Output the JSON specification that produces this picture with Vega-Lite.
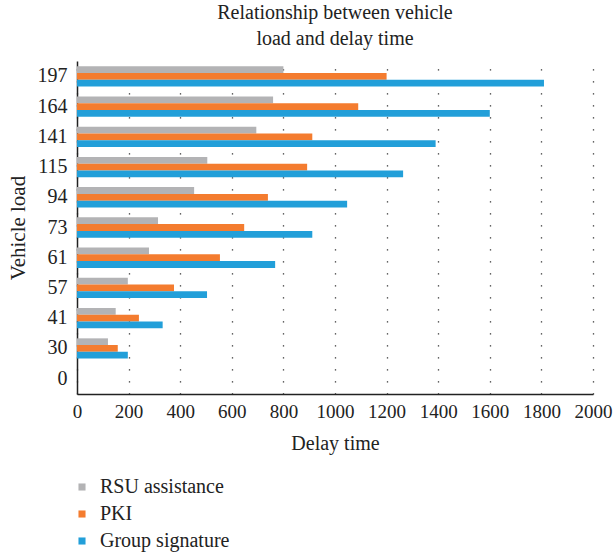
{
  "$schema": "https://vega.github.io/schema/vega-lite/v6.json",
  "autosize": "none",
  "width": 516,
  "height": 333,
  "padding": {"left": 77, "top": 61, "right": 20, "bottom": 160},
  "background": "white",
  "title": {
    "text": ["Relationship between vehicle", "load and delay time"],
    "font": "Liberation Serif",
    "fontSize": 20,
    "fontWeight": "normal",
    "color": "#222",
    "anchor": "middle",
    "lineHeight": 26,
    "offset": 12
  },
  "data": {
    "values": [
      {"load": 197, "scheme": "RSU assistance", "delay": 800},
      {"load": 197, "scheme": "PKI", "delay": 1200},
      {"load": 197, "scheme": "Group signature", "delay": 1810},
      {"load": 164, "scheme": "RSU assistance", "delay": 760},
      {"load": 164, "scheme": "PKI", "delay": 1090},
      {"load": 164, "scheme": "Group signature", "delay": 1600},
      {"load": 141, "scheme": "RSU assistance", "delay": 695},
      {"load": 141, "scheme": "PKI", "delay": 912},
      {"load": 141, "scheme": "Group signature", "delay": 1390},
      {"load": 115, "scheme": "RSU assistance", "delay": 505},
      {"load": 115, "scheme": "PKI", "delay": 892},
      {"load": 115, "scheme": "Group signature", "delay": 1264},
      {"load": 94, "scheme": "RSU assistance", "delay": 454},
      {"load": 94, "scheme": "PKI", "delay": 740},
      {"load": 94, "scheme": "Group signature", "delay": 1047},
      {"load": 73, "scheme": "RSU assistance", "delay": 314},
      {"load": 73, "scheme": "PKI", "delay": 648},
      {"load": 73, "scheme": "Group signature", "delay": 912},
      {"load": 61, "scheme": "RSU assistance", "delay": 279},
      {"load": 61, "scheme": "PKI", "delay": 554},
      {"load": 61, "scheme": "Group signature", "delay": 768},
      {"load": 57, "scheme": "RSU assistance", "delay": 197},
      {"load": 57, "scheme": "PKI", "delay": 376},
      {"load": 57, "scheme": "Group signature", "delay": 504},
      {"load": 41, "scheme": "RSU assistance", "delay": 150},
      {"load": 41, "scheme": "PKI", "delay": 240},
      {"load": 41, "scheme": "Group signature", "delay": 332},
      {"load": 30, "scheme": "RSU assistance", "delay": 120},
      {"load": 30, "scheme": "PKI", "delay": 158},
      {"load": 30, "scheme": "Group signature", "delay": 197},
      {"load": 0, "scheme": "RSU assistance", "delay": 0},
      {"load": 0, "scheme": "PKI", "delay": 0},
      {"load": 0, "scheme": "Group signature", "delay": 0}
    ]
  },
  "mark": {"type": "bar", "cornerRadius": 0},
  "encoding": {
    "y": {
      "field": "load",
      "type": "ordinal",
      "sort": [197, 164, 141, 115, 94, 73, 61, 57, 41, 30, 0],
      "scale": {"paddingInner": 0.33, "paddingOuter": 0.17},
      "axis": {
        "title": "Vehicle load",
        "titleFont": "Liberation Serif",
        "titleFontSize": 21,
        "titleFontWeight": "normal",
        "titleColor": "#222",
        "titlePadding": 9,
        "labelFont": "Liberation Serif",
        "labelFontSize": 20,
        "labelColor": "#222",
        "labelPadding": 10,
        "ticks": false,
        "domainColor": "#222",
        "domainWidth": 1.5,
        "grid": false
      }
    },
    "yOffset": {
      "field": "scheme",
      "sort": ["RSU assistance", "PKI", "Group signature"]
    },
    "x": {
      "field": "delay",
      "type": "quantitative",
      "scale": {"domain": [0, 2000], "nice": false},
      "axis": {
        "title": "Delay time",
        "format": "d",
        "values": [0, 200, 400, 600, 800, 1000, 1200, 1400, 1600, 1800, 2000],
        "titleFont": "Liberation Serif",
        "titleFontSize": 20,
        "titleFontWeight": "normal",
        "titleColor": "#222",
        "titlePadding": 12,
        "labelFont": "Liberation Serif",
        "labelFontSize": 19,
        "labelColor": "#222",
        "labelPadding": 8,
        "labelOverlap": false,
        "labelBound": false,
        "labelFlush": false,
        "ticks": false,
        "domainColor": "#222",
        "domainWidth": 1.5,
        "grid": true,
        "gridColor": "#333",
        "gridDash": [1.2, 10.8],
        "gridWidth": 1.3
      }
    },
    "color": {
      "field": "scheme",
      "type": "nominal",
      "sort": ["RSU assistance", "PKI", "Group signature"],
      "scale": {
        "domain": ["RSU assistance", "PKI", "Group signature"],
        "range": ["#b3b3b5", "#f47c2f", "#229fd9"]
      },
      "legend": {
        "title": null,
        "orient": "none",
        "legendX": -5,
        "legendY": 416,
        "direction": "vertical",
        "symbolType": "square",
        "symbolSize": 50,
        "symbolStrokeWidth": 0,
        "labelFont": "Liberation Serif",
        "labelFontSize": 20,
        "labelColor": "#222",
        "labelOffset": 8,
        "rowPadding": 7
      }
    }
  },
  "config": {"view": {"stroke": null}, "font": "Liberation Serif"}
}
